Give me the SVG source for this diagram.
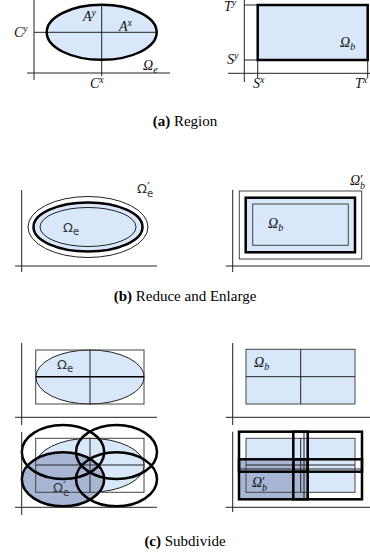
<svg xmlns="http://www.w3.org/2000/svg" width="370" height="558" viewBox="0 0 370 558">
<style>
.ax{stroke:#222;stroke-width:1;fill:none}
.th{stroke:#000;stroke-width:2.5;fill:none}
.tn{stroke:#222;stroke-width:1;fill:none}
.gr{stroke:#444;stroke-width:1}
.lb{fill:#d8e8fa}
.dk{fill:#a8b6d4}
.m{font-family:"Liberation Serif",serif;font-style:italic;font-size:14px;fill:#111}
.s{font-family:"DejaVu Sans",sans-serif;font-size:13px;fill:#333}
.sub{font-size:10px}
.pr{font-size:13px;font-style:normal}
.cap{font-family:"Liberation Serif",serif;font-size:15px;fill:#000;text-anchor:middle}
</style>
<rect width="370" height="558" fill="#fff"/>

<!-- Panel a left -->
<g id="a-ellipse">
<ellipse cx="101.7" cy="32.3" rx="55" ry="27.5" class="lb"/>
<line x1="34" y1="32.3" x2="157" y2="32.3" class="tn"/>
<line x1="101.7" y1="5" x2="101.7" y2="76" class="tn"/>
<ellipse cx="101.7" cy="32.3" rx="55" ry="27.5" class="th"/>
<text class="m" x="83" y="21">A<tspan class="sub" dy="-5">y</tspan></text>
<text class="m" x="119" y="31">A<tspan class="sub" dy="-5">x</tspan></text>
<text class="m" x="143" y="70">Ω<tspan class="sub" dy="3">e</tspan></text>
<text class="m" x="14" y="37">C<tspan class="sub" dy="-5">y</tspan></text>
<text class="m" x="90" y="88">C<tspan class="sub" dy="-5">x</tspan></text>
</g>
<g id="a-axes-left">
<line x1="34" y1="0" x2="34" y2="80" class="ax"/>
<line x1="27" y1="73" x2="170" y2="73" class="ax"/>
</g>

<!-- Panel a right -->
<g id="a-box">
<rect x="257.7" y="5" width="110" height="55" class="lb"/>
<line x1="244.3" y1="5" x2="257.7" y2="5" class="tn"/>
<line x1="244.3" y1="60" x2="257.7" y2="60" class="tn"/>
<line x1="257.7" y1="60" x2="257.7" y2="78" class="tn"/>
<line x1="367.7" y1="60" x2="367.7" y2="78" class="tn"/>
<rect x="257.7" y="5" width="110" height="55" class="th"/>
<text class="m" x="340" y="47">Ω<tspan class="sub" dy="3">b</tspan></text>
<text class="m" x="224" y="11">T<tspan class="sub" dy="-5">y</tspan></text>
<text class="m" x="227" y="64">S<tspan class="sub" dy="-5">y</tspan></text>
<text class="m" x="253" y="88">S<tspan class="sub" dy="-5">x</tspan></text>
<text class="m" x="355" y="88">T<tspan class="sub" dy="-5">x</tspan></text>
</g>
<g id="a-axes-right">
<line x1="244.3" y1="0" x2="244.3" y2="82" class="ax"/>
<line x1="228" y1="73.3" x2="370" y2="73.3" class="ax"/>
</g>
<text class="cap" x="185" y="126"><tspan font-weight="bold">(a)</tspan> Region</text>

<!-- Panel b left -->
<g id="b-ellipse">
<ellipse cx="88" cy="227" rx="60" ry="30.5" class="tn"/>
<ellipse cx="88" cy="227" rx="54.5" ry="24.5" class="lb"/>
<ellipse cx="88" cy="227" rx="54.5" ry="24.5" class="th"/>
<ellipse cx="88" cy="227" rx="48" ry="19.5" class="tn"/>
<text class="s" x="63" y="232">Ω<tspan class="sub" dy="3">e</tspan></text>
<text class="s" x="137" y="193">Ω<tspan class="pr" dy="-2">′</tspan><tspan class="sub" x="147" dy="6">e</tspan></text>
</g>
<g id="b-axes-left">
<line x1="21.7" y1="190" x2="21.7" y2="272" class="ax"/>
<line x1="15" y1="266" x2="157" y2="266" class="ax"/>
</g>

<!-- Panel b right -->
<g id="b-box">
<rect x="239.3" y="191" width="122.4" height="68" class="gr" fill="none"/>
<rect x="245.7" y="197.7" width="109.3" height="54.6" class="lb"/>
<rect x="245.7" y="197.7" width="109.3" height="54.6" class="th"/>
<rect x="252.7" y="204" width="95.6" height="41.3" class="gr" fill="none"/>
<text class="m" x="268" y="228">Ω<tspan class="sub" dy="3">b</tspan></text>
<text class="m" x="350" y="185">Ω<tspan class="pr" dy="-2">′</tspan><tspan class="sub" x="360" dy="6">b</tspan></text>
</g>
<g id="b-axes-right">
<line x1="232.7" y1="190" x2="232.7" y2="272" class="ax"/>
<line x1="225.7" y1="266" x2="370" y2="266" class="ax"/>
</g>
<text class="cap" x="185" y="301"><tspan font-weight="bold">(b)</tspan> Reduce and Enlarge</text>

<!-- Panel c top left -->
<g id="c-ellipse-split">
<ellipse cx="90" cy="377" rx="54.2" ry="27" class="lb"/>
<ellipse cx="90" cy="377" rx="54.2" ry="27" class="tn"/>
<rect x="35.7" y="350" width="108.3" height="54" class="gr" fill="none"/>
<line x1="90" y1="350" x2="90" y2="404" class="tn"/>
<line x1="35.7" y1="376.7" x2="144" y2="376.7" stroke="#000" stroke-width="1.6"/>
<text class="s" x="57" y="369">Ω<tspan class="sub" dy="3">e</tspan></text>
</g>
<g id="c-axes-tl">
<line x1="21.7" y1="343" x2="21.7" y2="425" class="ax"/>
<line x1="15" y1="417.3" x2="157" y2="417.3" class="ax"/>
</g>

<!-- Panel c top right -->
<g id="c-box-split">
<rect x="246" y="349.3" width="109" height="54.7" class="lb"/>
<rect x="246" y="349.3" width="109" height="54.7" class="gr" fill="none"/>
<line x1="300.7" y1="349.3" x2="300.7" y2="404" class="tn"/>
<line x1="246" y1="376.7" x2="355" y2="376.7" class="tn"/>
<text class="m" x="254" y="367">Ω<tspan class="sub" dy="3">b</tspan></text>
</g>
<g id="c-axes-tr">
<line x1="232.7" y1="343" x2="232.7" y2="425" class="ax"/>
<line x1="225.7" y1="417.3" x2="370" y2="417.3" class="ax"/>
</g>

<!-- Panel c bottom left -->
<g id="c-ellipse-enlarged">
<ellipse cx="90" cy="465.3" rx="54.2" ry="27" class="lb"/>
<ellipse cx="90" cy="465.3" rx="54.2" ry="27" class="tn"/>
<ellipse cx="63" cy="479.3" rx="41.2" ry="27" class="dk"/>
<rect x="35.7" y="438.3" width="108.3" height="54" class="gr" fill="none"/>
<line x1="90" y1="438.3" x2="90" y2="492.3" class="tn"/>
<line x1="35.7" y1="465" x2="144" y2="465" class="tn"/>
<ellipse cx="63" cy="452" rx="41.2" ry="27" class="th"/>
<ellipse cx="116.5" cy="452" rx="40.5" ry="27" class="th"/>
<ellipse cx="63" cy="479.3" rx="41.2" ry="27" class="th"/>
<ellipse cx="116.5" cy="479.3" rx="40.5" ry="27" class="th"/>
<text class="s" x="53" y="492">Ω<tspan class="pr" dy="-2">′</tspan><tspan class="sub" x="63" dy="6">e</tspan></text>
</g>
<g id="c-axes-bl">
<line x1="21.7" y1="432" x2="21.7" y2="515" class="ax"/>
<line x1="15" y1="507.3" x2="157" y2="507.3" class="ax"/>
</g>

<!-- Panel c bottom right -->
<g id="c-box-enlarged">
<rect x="246" y="438.3" width="109" height="54" class="lb"/>
<rect x="239" y="459.3" width="68.7" height="40" class="dk"/>
<rect x="246" y="438.3" width="109" height="54" class="gr" fill="none"/>
<line x1="300.7" y1="438.3" x2="300.7" y2="492.3" class="tn"/>
<line x1="246" y1="465" x2="355" y2="465" class="tn"/>
<line x1="239" y1="469" x2="362" y2="469" class="tn"/>
<line x1="304" y1="431.7" x2="304" y2="499.3" class="tn"/>
<rect x="239" y="431.7" width="68.7" height="40" class="th"/>
<rect x="293.3" y="431.7" width="68.7" height="40" class="th"/>
<rect x="239" y="459.3" width="68.7" height="40" class="th"/>
<rect x="293.3" y="459.3" width="68.7" height="40" class="th"/>
<text class="m" x="252" y="487">Ω<tspan class="pr" dy="-2">′</tspan><tspan class="sub" x="262" dy="6">b</tspan></text>
</g>
<g id="c-axes-br">
<line x1="232.7" y1="431.7" x2="232.7" y2="512" class="ax"/>
<line x1="225.7" y1="507.3" x2="370" y2="507.3" class="ax"/>
</g>
<text class="cap" x="185" y="546"><tspan font-weight="bold">(c)</tspan> Subdivide</text>
</svg>
